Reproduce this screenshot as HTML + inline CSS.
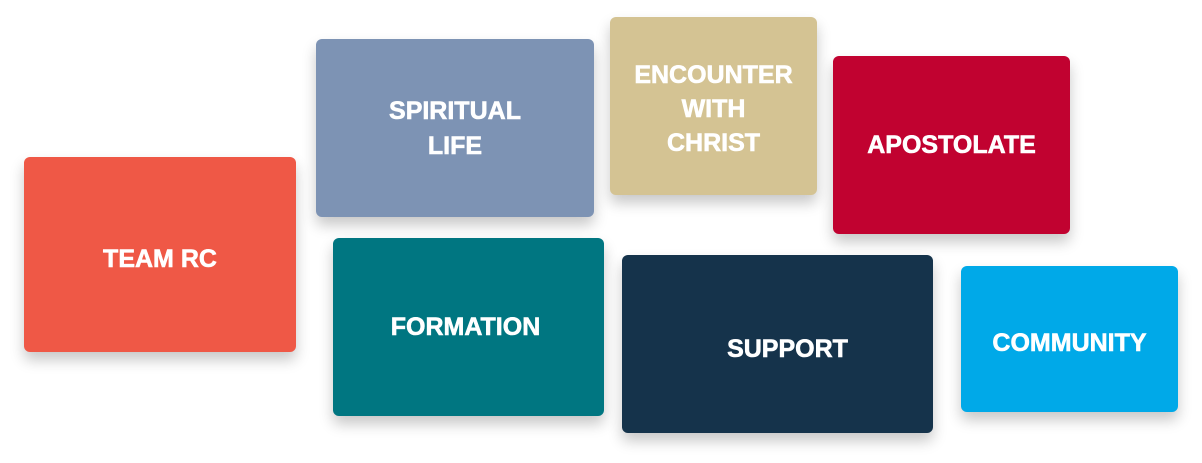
<!DOCTYPE html>
<html><head><meta charset="utf-8"><style>
html,body{margin:0;padding:0;background:#fff;width:1202px;height:463px;overflow:hidden}
.b{position:absolute;border-radius:6px;display:flex;align-items:center;justify-content:center;text-align:center;color:#fff;font-family:"Liberation Sans",sans-serif;font-weight:bold;font-size:25px;line-height:35px;box-sizing:border-box;-webkit-text-stroke:0.6px #fff;box-shadow:0 8px 14px rgba(0,0,0,0.22)}
</style></head><body>
<div class="b" style="left:24px;top:157px;width:272px;height:195px;background:#EF5846;padding-top:10px">TEAM RC</div>
<div class="b" style="left:316px;top:39px;width:278px;height:178px;background:#7D93B4;padding-top:2px">SPIRITUAL<br>LIFE</div>
<div class="b" style="left:610px;top:17px;width:207px;height:178px;background:#D4C393;line-height:34px;padding-top:6px">ENCOUNTER<br>WITH<br>CHRIST</div>
<div class="b" style="left:833px;top:56px;width:237px;height:178px;background:#C10230">APOSTOLATE</div>
<div class="b" style="left:333px;top:238px;width:271px;height:178px;background:#007681;padding-right:6px">FORMATION</div>
<div class="b" style="left:622px;top:255px;width:311px;height:178px;background:#15334B;padding-left:20px;padding-top:10px">SUPPORT</div>
<div class="b" style="left:961px;top:266px;width:217px;height:146px;background:#00A9E8;padding-top:8px">COMMUNITY</div>
</body></html>
